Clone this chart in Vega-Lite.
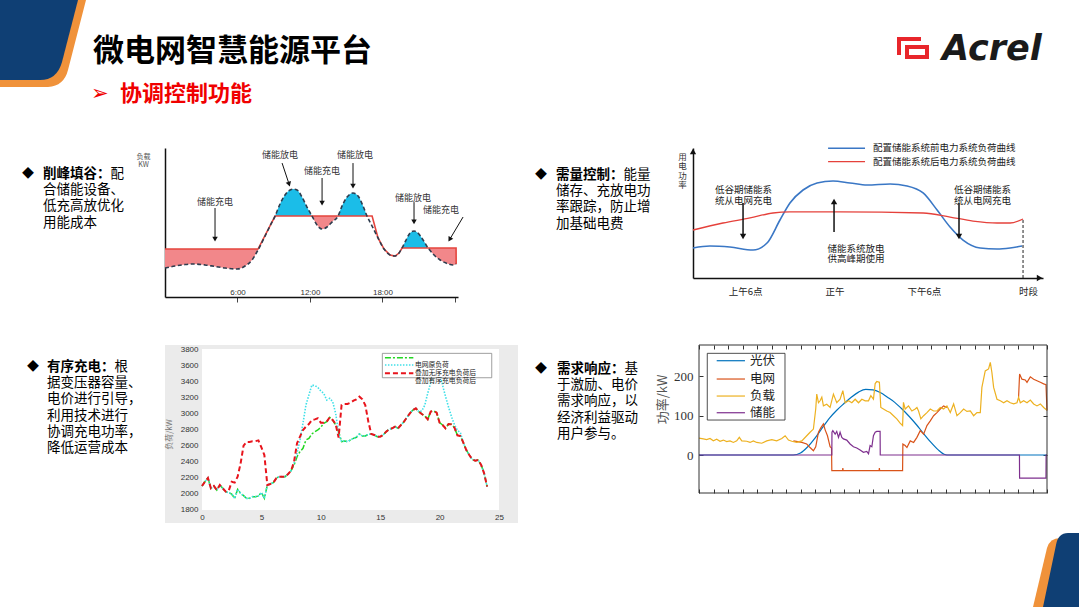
{
  "$schema": "https://vega.github.io/schema/vega-lite/v6.json",
  "background": "white",
  "padding": 0,
  "autosize": {"type": "pad"},
  "config": {
    "view": {"stroke": null},
    "font": "Noto Sans CJK SC",
    "axis": {"grid": false, "labelFont": "Noto Sans CJK SC", "titleFont": "Noto Sans CJK SC"}
  },
  "datasets": {
    "c1dash": [{"x":0,"y":21.2},{"x":0.83,"y":22.6},{"x":1.66,"y":23.7},{"x":2.32,"y":24.1},{"x":3.31,"y":23.4},{"x":4.14,"y":22.3},{"x":4.97,"y":21.2},{"x":5.96,"y":20.4},{"x":6.62,"y":22.6},{"x":7.2,"y":27.0},{"x":7.7,"y":34.3},{"x":8.28,"y":44.5},{"x":8.69,"y":51.8},{"x":9.11,"y":59.1},{"x":9.52,"y":67.9},{"x":9.93,"y":74.5},{"x":10.35,"y":78.1},{"x":10.6,"y":78.8},{"x":10.93,"y":78.1},{"x":11.34,"y":73.0},{"x":11.75,"y":65.7},{"x":12.17,"y":59.1},{"x":12.58,"y":52.6},{"x":13.0,"y":49.6},{"x":13.41,"y":51.1},{"x":13.82,"y":54.7},{"x":14.32,"y":59.1},{"x":14.65,"y":66.4},{"x":15.07,"y":73.0},{"x":15.56,"y":75.9},{"x":15.98,"y":73.7},{"x":16.39,"y":66.4},{"x":16.72,"y":59.1},{"x":17.14,"y":51.8},{"x":17.63,"y":43.1},{"x":18.13,"y":35.0},{"x":18.63,"y":30.7},{"x":19.04,"y":29.9},{"x":19.37,"y":32.1},{"x":19.62,"y":35.8},{"x":19.95,"y":41.6},{"x":20.28,"y":46.7},{"x":20.61,"y":48.2},{"x":20.94,"y":46.7},{"x":21.36,"y":41.6},{"x":21.77,"y":35.8},{"x":22.27,"y":30.7},{"x":22.77,"y":27.0},{"x":23.26,"y":24.8},{"x":23.84,"y":23.4},{"x":24.09,"y":24.1}],
    "c1red": [{"x":0,"y":35},{"x":7.7,"y":35},{"x":9.11,"y":59.1},{"x":17.14,"y":59.1},{"x":17.63,"y":43.1},{"x":18.13,"y":35.0},{"x":18.63,"y":30.7},{"x":19.04,"y":29.9},{"x":19.37,"y":32.1},{"x":19.62,"y":35.8},{"x":24.09,"y":35.8},{"x":24.1,"y":24.1}],
    "c1fill": [
      {"seg":"A","kind":"充电","x":0,"y":21.2,"y2":35},{"seg":"A","kind":"充电","x":0.83,"y":22.6,"y2":35},{"seg":"A","kind":"充电","x":1.66,"y":23.7,"y2":35},{"seg":"A","kind":"充电","x":2.32,"y":24.1,"y2":35},{"seg":"A","kind":"充电","x":3.31,"y":23.4,"y2":35},{"seg":"A","kind":"充电","x":4.14,"y":22.3,"y2":35},{"seg":"A","kind":"充电","x":4.97,"y":21.2,"y2":35},{"seg":"A","kind":"充电","x":5.96,"y":20.4,"y2":35},{"seg":"A","kind":"充电","x":6.62,"y":22.6,"y2":35},{"seg":"A","kind":"充电","x":7.2,"y":27.0,"y2":35},{"seg":"A","kind":"充电","x":7.7,"y":34.3,"y2":35},
      {"seg":"B","kind":"放电","x":9.11,"y":59.1,"y2":59.1},{"seg":"B","kind":"放电","x":9.52,"y":67.9,"y2":59.1},{"seg":"B","kind":"放电","x":9.93,"y":74.5,"y2":59.1},{"seg":"B","kind":"放电","x":10.35,"y":78.1,"y2":59.1},{"seg":"B","kind":"放电","x":10.6,"y":78.8,"y2":59.1},{"seg":"B","kind":"放电","x":10.93,"y":78.1,"y2":59.1},{"seg":"B","kind":"放电","x":11.34,"y":73.0,"y2":59.1},{"seg":"B","kind":"放电","x":11.75,"y":65.7,"y2":59.1},{"seg":"B","kind":"放电","x":12.17,"y":59.1,"y2":59.1},
      {"seg":"C","kind":"充电","x":12.17,"y":59.1,"y2":59.1},{"seg":"C","kind":"充电","x":12.58,"y":52.6,"y2":59.1},{"seg":"C","kind":"充电","x":13.0,"y":49.6,"y2":59.1},{"seg":"C","kind":"充电","x":13.41,"y":51.1,"y2":59.1},{"seg":"C","kind":"充电","x":13.82,"y":54.7,"y2":59.1},{"seg":"C","kind":"充电","x":14.32,"y":59.1,"y2":59.1},
      {"seg":"D","kind":"放电","x":14.32,"y":59.1,"y2":59.1},{"seg":"D","kind":"放电","x":14.65,"y":66.4,"y2":59.1},{"seg":"D","kind":"放电","x":15.07,"y":73.0,"y2":59.1},{"seg":"D","kind":"放电","x":15.56,"y":75.9,"y2":59.1},{"seg":"D","kind":"放电","x":15.98,"y":73.7,"y2":59.1},{"seg":"D","kind":"放电","x":16.39,"y":66.4,"y2":59.1},{"seg":"D","kind":"放电","x":16.72,"y":59.1,"y2":59.1},
      {"seg":"E","kind":"放电","x":19.62,"y":35.8,"y2":35.8},{"seg":"E","kind":"放电","x":19.95,"y":41.6,"y2":35.8},{"seg":"E","kind":"放电","x":20.28,"y":46.7,"y2":35.8},{"seg":"E","kind":"放电","x":20.61,"y":48.2,"y2":35.8},{"seg":"E","kind":"放电","x":20.94,"y":46.7,"y2":35.8},{"seg":"E","kind":"放电","x":21.36,"y":41.6,"y2":35.8},{"seg":"E","kind":"放电","x":21.77,"y":35.8,"y2":35.8},
      {"seg":"F","kind":"充电","x":21.77,"y":35.8,"y2":35.8},{"seg":"F","kind":"充电","x":22.27,"y":30.7,"y2":35.8},{"seg":"F","kind":"充电","x":22.77,"y":27.0,"y2":35.8},{"seg":"F","kind":"充电","x":23.26,"y":24.8,"y2":35.8},{"seg":"F","kind":"充电","x":23.84,"y":23.4,"y2":35.8},{"seg":"F","kind":"充电","x":24.09,"y":24.1,"y2":35.8}
    ],
    "c1arrows": [{"x":4.14,"y":65,"x2":4.14,"y2":42.3},{"x":9.69,"y":97.8,"x2":10.27,"y2":82.4},{"x":13.0,"y":86.9,"x2":13.0,"y2":68.6},{"x":15.56,"y":97.8,"x2":15.56,"y2":81},{"x":20.61,"y":69.3,"x2":20.61,"y2":54.8},{"x":24.67,"y":58.4,"x2":23.56,"y2":42.0}],
    "c1heads": [{"x":4.14,"y":42.3,"a":0},{"x":10.27,"y":82.4,"a":-18},{"x":13.0,"y":68.6,"a":0},{"x":15.56,"y":81,"a":0},{"x":20.61,"y":54.8,"a":0},{"x":23.56,"y":42.0,"a":31}],
    "c1labels": [{"x":4.14,"y":69.3,"t":"储能充电"},{"x":9.52,"y":103.6,"t":"储能放电"},{"x":13.0,"y":92.0,"t":"储能充电"},{"x":15.73,"y":103.6,"t":"储能放电"},{"x":20.53,"y":72.3,"t":"储能放电"},{"x":22.85,"y":63.5,"t":"储能充电"}],
    "c2lines": [
      {"s":"前","x":2.5,"y":23.1},{"s":"前","x":3.64,"y":24.6},{"s":"前","x":4.98,"y":23.8},{"s":"前","x":6.53,"y":21.5},{"s":"前","x":7.47,"y":26.9},{"s":"前","x":8.34,"y":44.6},{"s":"前","x":9.01,"y":57.7},{"s":"前","x":9.89,"y":67.7},{"s":"前","x":10.83,"y":73.1},{"s":"前","x":11.9,"y":74.6},{"s":"前","x":13.04,"y":73.1},{"s":"前","x":14.19,"y":71.5},{"s":"前","x":15.73,"y":72.3},{"s":"前","x":16.87,"y":70.8},{"s":"前","x":17.95,"y":65.4},{"s":"前","x":18.89,"y":52.3},{"s":"前","x":19.76,"y":39.2},{"s":"前","x":20.63,"y":29.2},{"s":"前","x":21.78,"y":23.1},{"s":"前","x":22.92,"y":22.3},{"s":"前","x":23.79,"y":23.1},{"s":"前","x":24.6,"y":24.6},
      {"s":"后","x":2.5,"y":36.9},{"s":"后","x":4.51,"y":42.3},{"s":"后","x":6.33,"y":46.2},{"s":"后","x":7.87,"y":50.0},{"s":"后","x":9.01,"y":50.8},{"s":"后","x":12.37,"y":50.8},{"s":"后","x":17.95,"y":50.0},{"s":"后","x":19.76,"y":46.9},{"s":"后","x":21.3,"y":43.8},{"s":"后","x":22.92,"y":42.3},{"s":"后","x":23.79,"y":42.3},{"s":"后","x":24.66,"y":45.4}
    ],
    "c2arrows": [{"x":5.86,"y":57.7,"y2":31.9},{"x":11.97,"y":35.4,"y2":58.8},{"x":20.36,"y":57.7,"y2":31.9}],
    "c2heads": [{"x":5.86,"y":31.9,"a":0},{"x":11.97,"y":58.8,"a":180},{"x":20.36,"y":31.9,"a":0},{"x":2.5,"y":97.3,"a":180},{"x":25.77,"y":0,"a":-90}],
    "c2leg": [{"s":"前","x":11.57,"x2":14.05,"y":99.8},{"s":"后","x":11.57,"x2":14.05,"y":89.5}],
    "c2legtext": [{"x":14.59,"y":99.8,"t":"配置储能系统前电力系统负荷曲线"},{"x":14.59,"y":89.5,"t":"配置储能系统后电力系统负荷曲线"}],
    "c2text": [{"x":5.89,"y":67.4,"t":"低谷期储能系\n统从电网充电"},{"x":21.94,"y":67.4,"t":"低谷期储能系\n统从电网充电"},{"x":13.45,"y":22.6,"t":"储能系统放电\n供高峰期使用"}],
    "c3": [
      {"x":0,"g":2098,"c":2098,"r":2098},{"x":0.25,"g":2152,"c":2152,"r":2152},{"x":0.5,"g":2198,"c":2198,"r":2198},{"x":0.75,"g":2069,"c":2069,"r":2069},{"x":1,"g":2098,"c":2098,"r":2098},{"x":1.25,"g":2048,"c":2048,"r":2048},{"x":1.5,"g":2110,"c":2110,"r":2110},{"x":1.75,"g":2069,"c":2069,"r":2069},{"x":2,"g":2028,"c":2028,"r":2028},{"x":2.25,"g":2015,"c":2015,"r":2040},{"x":2.5,"g":1999,"c":1999,"r":2150},{"x":2.75,"g":1945,"c":1945,"r":2140},{"x":3,"g":2057,"c":2057,"r":2214},{"x":3.25,"g":2007,"c":2007,"r":2380},{"x":3.5,"g":1978,"c":1978,"r":2600},{"x":3.75,"g":1945,"c":1945,"r":2645},{"x":4,"g":1945,"c":1945,"r":2645},{"x":4.25,"g":1966,"c":1966,"r":2655},{"x":4.5,"g":1966,"c":1966,"r":2655},{"x":4.75,"g":1974,"c":1974,"r":2665},{"x":5,"g":2019,"c":2019,"r":2578},{"x":5.25,"g":1945,"c":1945,"r":2483},{"x":5.5,"g":2110,"c":2110,"r":2110},{"x":5.75,"g":2123,"c":2123,"r":2123},{"x":6,"g":2140,"c":2140,"r":2140},{"x":6.25,"g":2193,"c":2193,"r":2193},{"x":6.5,"g":2214,"c":2214,"r":2214},{"x":6.75,"g":2214,"c":2214,"r":2214},{"x":7,"g":2214,"c":2214,"r":2214},{"x":7.25,"g":2247,"c":2247,"r":2247},{"x":7.5,"g":2289,"c":2289,"r":2289},{"x":7.75,"g":2359,"c":2380,"r":2400},{"x":8,"g":2462,"c":2504,"r":2628},{"x":8.25,"g":2525,"c":2670,"r":2711},{"x":8.5,"g":2566,"c":2877,"r":2794},{"x":8.75,"g":2670,"c":3104,"r":2835},{"x":9,"g":2690,"c":3229,"r":2868},{"x":9.25,"g":2744,"c":3353,"r":2918},{"x":9.5,"g":2773,"c":3345,"r":2926},{"x":9.75,"g":2794,"c":3324,"r":2939},{"x":10,"g":2827,"c":3278,"r":2885},{"x":10.25,"g":2877,"c":3249,"r":2885},{"x":10.5,"g":2897,"c":3166,"r":2897},{"x":10.75,"g":2951,"c":3187,"r":2951},{"x":11,"g":2918,"c":3146,"r":2918},{"x":11.25,"g":2856,"c":3001,"r":2868},{"x":11.5,"g":2773,"c":2752,"r":2700},{"x":11.75,"g":2649,"c":2649,"r":3104},{"x":12,"g":2657,"c":2657,"r":3117},{"x":12.25,"g":2649,"c":2649,"r":3117},{"x":12.5,"g":2670,"c":2670,"r":3133},{"x":12.75,"g":2690,"c":2690,"r":3158},{"x":13,"g":2703,"c":2703,"r":3175},{"x":13.25,"g":2744,"c":2744,"r":3208},{"x":13.5,"g":2719,"c":2719,"r":3175},{"x":13.75,"g":2719,"c":2719,"r":3100},{"x":14,"g":2740,"c":2740,"r":2900},{"x":14.25,"g":2744,"c":2744,"r":2744},{"x":14.5,"g":2732,"c":2732,"r":2732},{"x":14.75,"g":2711,"c":2711,"r":2711},{"x":15,"g":2711,"c":2711,"r":2711},{"x":15.25,"g":2732,"c":2732,"r":2732},{"x":15.5,"g":2773,"c":2773,"r":2773},{"x":15.75,"g":2802,"c":2802,"r":2802},{"x":16,"g":2815,"c":2815,"r":2815},{"x":16.25,"g":2835,"c":2835,"r":2835},{"x":16.5,"g":2815,"c":2815,"r":2815},{"x":16.75,"g":2856,"c":2856,"r":2856},{"x":17,"g":2897,"c":2897,"r":2897},{"x":17.25,"g":2951,"c":2951,"r":2951},{"x":17.5,"g":3001,"c":3001,"r":3001},{"x":17.75,"g":3042,"c":3042,"r":3042},{"x":18,"g":3063,"c":3063,"r":3063},{"x":18.25,"g":3022,"c":3022,"r":3022},{"x":18.5,"g":2993,"c":3030,"r":2993},{"x":18.75,"g":2968,"c":3100,"r":2968},{"x":19,"g":2926,"c":3250,"r":2926},{"x":19.25,"g":3022,"c":3380,"r":3022},{"x":19.5,"g":3030,"c":3560,"r":3030},{"x":19.75,"g":3009,"c":3700,"r":3009},{"x":20,"g":2885,"c":3550,"r":2885},{"x":20.25,"g":2856,"c":3350,"r":2856},{"x":20.5,"g":2815,"c":3210,"r":2815},{"x":20.75,"g":2868,"c":3080,"r":2868},{"x":21,"g":2864,"c":2960,"r":2864},{"x":21.25,"g":2823,"c":2860,"r":2823},{"x":21.5,"g":2728,"c":2790,"r":2728},{"x":21.75,"g":2719,"c":2760,"r":2719},{"x":22,"g":2636,"c":2636,"r":2636},{"x":22.25,"g":2545,"c":2545,"r":2545},{"x":22.5,"g":2483,"c":2483,"r":2483},{"x":22.75,"g":2429,"c":2429,"r":2429},{"x":23,"g":2413,"c":2413,"r":2413},{"x":23.25,"g":2421,"c":2421,"r":2421},{"x":23.5,"g":2359,"c":2359,"r":2359},{"x":23.75,"g":2255,"c":2255,"r":2255},{"x":24,"g":2090,"c":2090,"r":2090}
    ],
    "c3box": [{"x":15.18,"x2":24.39,"y":3746,"y2":3443}],
    "c3leg": [{"s":"g","x":15.4,"x2":17.79,"y":3692},{"s":"c","x":15.4,"x2":17.79,"y":3601},{"s":"r","x":15.4,"x2":17.79,"y":3498}],
    "c3legtext": [{"x":17.92,"y":3597,"t":"电网原负荷\n叠加无序充电负荷后\n叠加有序充电负荷后"}],
    "c4": [
      {"s":"光伏","x":0,"y":0},{"s":"光伏","x":6.5,"y":0},{"s":"光伏","x":7,"y":5},{"s":"光伏","x":7.5,"y":21},{"s":"光伏","x":8,"y":43},{"s":"光伏","x":8.5,"y":69},{"s":"光伏","x":9,"y":94},{"s":"光伏","x":9.5,"y":114},{"s":"光伏","x":10,"y":131},{"s":"光伏","x":10.5,"y":147},{"s":"光伏","x":11,"y":160},{"s":"光伏","x":11.5,"y":167},{"s":"光伏","x":12,"y":166},{"s":"光伏","x":12.5,"y":159},{"s":"光伏","x":13,"y":147},{"s":"光伏","x":13.5,"y":134},{"s":"光伏","x":14,"y":117},{"s":"光伏","x":14.5,"y":98},{"s":"光伏","x":15,"y":77},{"s":"光伏","x":15.5,"y":54},{"s":"光伏","x":16,"y":32},{"s":"光伏","x":16.5,"y":13},{"s":"光伏","x":16.9,"y":2},{"s":"光伏","x":17.1,"y":0},{"s":"光伏","x":24,"y":0},
      {"s":"电网","seg":"a","x":6.51,"y":36},{"s":"电网","seg":"a","x":7.09,"y":32},{"s":"电网","seg":"a","x":7.43,"y":28},{"s":"电网","seg":"a","x":7.66,"y":19},{"s":"电网","seg":"a","x":7.89,"y":11},{"s":"电网","seg":"a","x":8.05,"y":21},{"s":"电网","seg":"a","x":8.24,"y":58},{"s":"电网","seg":"a","x":8.4,"y":69},{"s":"电网","seg":"a","x":8.58,"y":79},{"s":"电网","seg":"a","x":8.7,"y":64},{"s":"电网","seg":"a","x":8.86,"y":49},{"s":"电网","seg":"a","x":9.04,"y":21},{"s":"电网","seg":"a","x":9.14,"y":18},{"s":"电网","seg":"a","x":9.16,"y":-40},{"s":"电网","seg":"a","x":9.9,"y":-40},{"s":"电网","seg":"a","x":9.92,"y":-33},{"s":"电网","seg":"a","x":9.94,"y":-40},{"s":"电网","seg":"a","x":12.42,"y":-40},{"s":"电网","seg":"a","x":12.44,"y":-33},{"s":"电网","seg":"a","x":12.46,"y":-40},{"s":"电网","seg":"a","x":14.04,"y":-40},{"s":"电网","seg":"a","x":14.06,"y":28},{"s":"电网","seg":"a","x":14.22,"y":24},{"s":"电网","seg":"a","x":14.34,"y":19},{"s":"电网","seg":"a","x":14.57,"y":36},{"s":"电网","seg":"a","x":14.8,"y":32},{"s":"电网","seg":"a","x":15.03,"y":45},{"s":"电网","seg":"a","x":15.26,"y":62},{"s":"电网","seg":"a","x":15.49,"y":53},{"s":"电网","seg":"a","x":15.72,"y":75},{"s":"电网","seg":"a","x":15.95,"y":87},{"s":"电网","seg":"a","x":16.18,"y":100},{"s":"电网","seg":"a","x":16.41,"y":108},{"s":"电网","seg":"a","x":16.64,"y":117},{"s":"电网","seg":"a","x":16.87,"y":125},{"s":"电网","seg":"a","x":17.1,"y":121},
      {"s":"电网","seg":"b","x":22.04,"y":147},{"s":"电网","seg":"b","x":22.11,"y":206},{"s":"电网","seg":"b","x":22.27,"y":193},{"s":"电网","seg":"b","x":22.5,"y":191},{"s":"电网","seg":"b","x":22.62,"y":185},{"s":"电网","seg":"b","x":22.85,"y":199},{"s":"电网","seg":"b","x":23.08,"y":193},{"s":"电网","seg":"b","x":23.31,"y":189},{"s":"电网","seg":"b","x":23.54,"y":185},{"s":"电网","seg":"b","x":23.77,"y":181},{"s":"电网","seg":"b","x":23.93,"y":179},{"s":"电网","seg":"b","x":24,"y":113},
      {"s":"负载","x":0,"y":43},{"s":"负载","x":0.3,"y":41},{"s":"负载","x":0.53,"y":39},{"s":"负载","x":0.76,"y":42},{"s":"负载","x":0.99,"y":36},{"s":"负载","x":1.22,"y":40},{"s":"负载","x":1.45,"y":35},{"s":"负载","x":1.68,"y":38},{"s":"负载","x":1.91,"y":34},{"s":"负载","x":2.14,"y":36},{"s":"负载","x":2.37,"y":32},{"s":"负载","x":2.6,"y":36},{"s":"负载","x":2.78,"y":45},{"s":"负载","x":2.95,"y":36},{"s":"负载","x":3.29,"y":35},{"s":"负载","x":3.52,"y":32},{"s":"负载","x":3.75,"y":36},{"s":"负载","x":3.98,"y":32},{"s":"负载","x":4.33,"y":30},{"s":"负载","x":4.67,"y":36},{"s":"负载","x":5.02,"y":39},{"s":"负载","x":5.36,"y":36},{"s":"负载","x":5.71,"y":42},{"s":"负载","x":5.94,"y":49},{"s":"负载","x":6.17,"y":38},{"s":"负载","x":6.4,"y":35},{"s":"负载","x":6.74,"y":32},{"s":"负载","x":7.09,"y":36},{"s":"负载","x":7.43,"y":49},{"s":"负载","x":7.66,"y":58},{"s":"负载","x":7.89,"y":66},{"s":"负载","x":8.05,"y":117},{"s":"负载","x":8.12,"y":155},{"s":"负载","x":8.24,"y":133},{"s":"负载","x":8.35,"y":138},{"s":"负载","x":8.47,"y":147},{"s":"负载","x":8.58,"y":125},{"s":"负载","x":8.81,"y":129},{"s":"负载","x":9.04,"y":121},{"s":"负载","x":9.27,"y":155},{"s":"负载","x":9.5,"y":133},{"s":"负载","x":9.73,"y":142},{"s":"负载","x":9.92,"y":164},{"s":"负载","x":10.08,"y":133},{"s":"负载","x":10.31,"y":138},{"s":"负载","x":10.54,"y":133},{"s":"负载","x":10.77,"y":142},{"s":"负载","x":11.0,"y":133},{"s":"负载","x":11.23,"y":142},{"s":"负载","x":11.46,"y":138},{"s":"负载","x":11.69,"y":138},{"s":"负载","x":11.85,"y":151},{"s":"负载","x":12.03,"y":142},{"s":"负载","x":12.15,"y":182},{"s":"负载","x":12.26,"y":187},{"s":"负载","x":12.44,"y":185},{"s":"负载","x":12.54,"y":121},{"s":"负载","x":12.72,"y":117},{"s":"负载","x":12.95,"y":112},{"s":"负载","x":13.18,"y":108},{"s":"负载","x":13.41,"y":100},{"s":"负载","x":13.64,"y":92},{"s":"负载","x":13.87,"y":81},{"s":"负载","x":14.04,"y":75},{"s":"负载","x":14.1,"y":134},{"s":"负载","x":14.22,"y":117},{"s":"负载","x":14.45,"y":125},{"s":"负载","x":14.68,"y":112},{"s":"负载","x":14.91,"y":117},{"s":"负载","x":15.03,"y":121},{"s":"负载","x":15.14,"y":112},{"s":"负载","x":15.3,"y":92},{"s":"负载","x":15.49,"y":100},{"s":"负载","x":15.72,"y":108},{"s":"负载","x":15.95,"y":117},{"s":"负载","x":16.18,"y":112},{"s":"负载","x":16.41,"y":112},{"s":"负载","x":16.64,"y":121},{"s":"负载","x":16.87,"y":117},{"s":"负载","x":17.1,"y":125},{"s":"负载","x":17.33,"y":108},{"s":"负载","x":17.56,"y":130},{"s":"负载","x":17.79,"y":100},{"s":"负载","x":18.02,"y":108},{"s":"负载","x":18.25,"y":117},{"s":"负载","x":18.48,"y":111},{"s":"负载","x":18.71,"y":112},{"s":"负载","x":18.94,"y":100},{"s":"负载","x":19.17,"y":108},{"s":"负载","x":19.4,"y":108},{"s":"负载","x":19.51,"y":172},{"s":"负载","x":19.74,"y":214},{"s":"负载","x":19.97,"y":219},{"s":"负载","x":20.09,"y":236},{"s":"负载","x":20.2,"y":210},{"s":"负载","x":20.32,"y":172},{"s":"负载","x":20.55,"y":142},{"s":"负载","x":20.78,"y":138},{"s":"负载","x":21.01,"y":133},{"s":"负载","x":21.24,"y":138},{"s":"负载","x":21.47,"y":133},{"s":"负载","x":21.7,"y":130},{"s":"负载","x":21.93,"y":133},{"s":"负载","x":22.04,"y":147},{"s":"负载","x":22.16,"y":133},{"s":"负载","x":22.39,"y":138},{"s":"负载","x":22.62,"y":133},{"s":"负载","x":22.85,"y":140},{"s":"负载","x":23.08,"y":130},{"s":"负载","x":23.31,"y":125},{"s":"负载","x":23.54,"y":130},{"s":"负载","x":23.77,"y":121},{"s":"负载","x":24,"y":114},
      {"s":"储能","x":0,"y":0},{"s":"储能","x":9.16,"y":0},{"s":"储能","x":9.17,"y":58},{"s":"储能","x":9.23,"y":62},{"s":"储能","x":9.39,"y":53},{"s":"储能","x":9.5,"y":60},{"s":"储能","x":9.62,"y":45},{"s":"储能","x":9.73,"y":58},{"s":"储能","x":9.85,"y":45},{"s":"储能","x":9.96,"y":41},{"s":"储能","x":10.19,"y":38},{"s":"储能","x":10.42,"y":28},{"s":"储能","x":10.65,"y":21},{"s":"储能","x":10.88,"y":18},{"s":"储能","x":11.11,"y":13},{"s":"储能","x":11.34,"y":7},{"s":"储能","x":11.57,"y":9},{"s":"储能","x":11.69,"y":3},{"s":"储能","x":11.8,"y":24},{"s":"储能","x":11.92,"y":21},{"s":"储能","x":12.03,"y":49},{"s":"储能","x":12.15,"y":58},{"s":"储能","x":12.26,"y":60},{"s":"储能","x":12.49,"y":60},{"s":"储能","x":12.5,"y":0},{"s":"储能","x":22.1,"y":0},{"s":"储能","x":22.11,"y":-59},{"s":"储能","x":23.93,"y":-59},{"s":"储能","x":23.94,"y":0},{"s":"储能","x":24,"y":0}
    ],
    "c4frame": [{"x":0,"x2":24,"y":-96.7,"y2":280}],
    "c4box": [{"x":0.57,"x2":5.93,"y":258.8,"y2":89}],
    "c4leg": [{"s":"光伏","x":1.22,"x2":3.17,"y":240},{"s":"电网","x":1.22,"x2":3.17,"y":193.4},{"s":"负载","x":1.22,"x2":3.17,"y":150.1},{"s":"储能","x":1.22,"x2":3.17,"y":107.6}],
    "c4legtext": [{"x":3.52,"y":240,"t":"光伏"},{"x":3.52,"y":193.4,"t":"电网"},{"x":3.52,"y":150.1,"t":"负载"},{"x":3.52,"y":107.6,"t":"储能"}]
  },
  "columns": 4,
  "bounds": "flush",
  "align": "each",
  "spacing": {"row": 48, "column": 0},
  "concat": [
    {
      "width": 143, "height": 72,
      "data": {"values": [{"line": 0, "t": "微电网智慧能源平台", "logo": "Acrel"}, {"line": 1, "t": "协调控制功能", "arrow": "➢"}]},
      "encoding": {
        "x": {"datum": 0, "type": "quantitative", "scale": {"domain": [0, 1]}, "axis": null},
        "y": {"field": "line", "type": "quantitative", "scale": {"domain": [-0.5, 1.174], "reverse": true, "nice": false, "zero": false}, "axis": null}
      },
      "layer": [
        {"transform": [{"filter": "datum.line == 0"}], "mark": {"type": "point", "shape": "M-22,-49.5 L64,-49.5 L46,20.5 Q42,36.5 26,37.5 L-22,37.5 Z", "size": 4, "filled": true, "color": "#f0923a", "opacity": 1, "strokeWidth": 0}},
        {"transform": [{"filter": "datum.line == 0"}], "mark": {"type": "point", "shape": "M-22,-49.5 L56,-49.5 L40,12.5 Q35,30.5 18,30.5 L-22,30.5 Z", "size": 4, "filled": true, "color": "#0f3f74", "opacity": 1, "strokeWidth": 0}},
        {"transform": [{"filter": "datum.line == 0"}], "mark": {"type": "point", "shape": "M1038,488.5 L1057,488.5 L1057,557.5 L1011,557.5 L1025,498.5 Q1028,488.5 1038,488.5 Z", "size": 4, "filled": true, "color": "#f0923a", "opacity": 1, "strokeWidth": 0}},
        {"transform": [{"filter": "datum.line == 0"}], "mark": {"type": "point", "shape": "M1046,483.5 L1057,483.5 L1057,557.5 L1021,557.5 L1034,495.5 Q1036,483.5 1046,483.5 Z", "size": 4, "filled": true, "color": "#0f3f74", "opacity": 1, "strokeWidth": 0}},
        {"transform": [{"filter": "datum.line == 0"}], "mark": {"type": "point", "shape": "M875,-12.5 H899 V-8.5 H879 V5.5 H875 Z M883,-4.5 H907 V9.5 H883 Z M887,-0.5 V5.5 H903 V-0.5 Z", "size": 4, "filled": true, "color": "#e8262b", "opacity": 1, "strokeWidth": 0}},
        {"transform": [{"filter": "datum.line == 0"}], "mark": {"type": "text", "align": "left", "baseline": "middle", "dx": 71, "dy": 2, "fontSize": 31, "fontWeight": "bold", "color": "#000000"}, "encoding": {"text": {"field": "t"}}},
        {"transform": [{"filter": "datum.line == 0"}], "mark": {"type": "text", "align": "left", "baseline": "middle", "dx": 920, "dy": -1, "fontSize": 35, "fontWeight": "bold", "fontStyle": "italic", "font": "DejaVu Sans", "color": "#1a1a1a"}, "encoding": {"text": {"field": "logo"}}},
        {"transform": [{"filter": "datum.line == 1"}], "mark": {"type": "text", "align": "left", "baseline": "middle", "dx": 69, "dy": 1, "fontSize": 21, "font": "DejaVu Sans", "color": "#f00000"}, "encoding": {"text": {"field": "arrow"}}},
        {"transform": [{"filter": "datum.line == 1"}], "mark": {"type": "text", "align": "left", "baseline": "middle", "dx": 98, "dy": 1, "fontSize": 22, "fontWeight": "bold", "color": "#f00000"}, "encoding": {"text": {"field": "t"}}}
      ]
    },
    {"width": 293, "height": 10, "data": {"values": []}, "mark": "point"},
    {"width": 175, "height": 10, "data": {"values": []}, "mark": "point"},
    {"width": 350, "height": 10, "data": {"values": []}, "mark": "point"},
    {
      "width": 143, "height": 100,
      "data": {"values": [{"line": 0, "b": "削峰填谷：", "r": "配"}, {"line": 1, "t": "合储能设备、"}, {"line": 2, "t": "低充高放优化"}, {"line": 3, "t": "用能成本"}]},
      "encoding": {
        "x": {"datum": 0, "type": "quantitative", "scale": {"domain": [0, 1]}, "axis": null},
        "y": {"field": "line", "type": "quantitative", "scale": {"domain": [-1.605, 4.568], "reverse": true, "nice": false, "zero": false}, "axis": null}
      },
      "layer": [
        {"transform": [{"filter": "datum.line == 0"}], "mark": {"type": "text", "text": "◆", "align": "left", "baseline": "middle", "dx": 0, "fontSize": 12, "color": "#000000"}},
        {"transform": [{"filter": "datum.line > 0"}], "mark": {"type": "text", "align": "left", "baseline": "middle", "dx": 21, "fontSize": 13.5, "color": "#000000"}, "encoding": {"text": {"field": "t"}}},
        {"transform": [{"filter": "datum.line == 0"}], "mark": {"type": "text", "align": "left", "baseline": "middle", "dx": 21, "fontSize": 13.5, "fontWeight": "bold", "color": "#000000"}, "encoding": {"text": {"field": "b"}}},
        {"transform": [{"filter": "datum.line == 0"}], "mark": {"type": "text", "align": "left", "baseline": "middle", "dx": 88.5, "fontSize": 13.5, "color": "#000000"}, "encoding": {"text": {"field": "r"}}}
      ]
    },
    {
      "width": 293, "height": 149,
      "encoding": {
        "x": {"field": "x", "type": "quantitative", "scale": {"domain": [0, 24.25], "nice": false, "zero": false},
              "axis": {"values": [6, 12, 18, 24], "labelExpr": "datum.value == 24 ? '' : datum.value + ':00'", "title": null, "domainColor": "#111111", "domainWidth": 1.5, "tickColor": "#444444", "tickSize": 5, "labelFontSize": 8, "labelColor": "#333333", "labelFont": "Liberation Sans", "labelBaseline": "bottom", "labelPadding": -6}},
        "y": {"field": "y", "type": "quantitative", "scale": {"domain": [0, 108.8], "nice": false, "zero": false},
              "axis": {"ticks": false, "labels": false, "domainColor": "#111111", "domainWidth": 1.5, "title": ["负载", "KW"], "titleAngle": 0, "titleAlign": "center", "titleBaseline": "top", "titleX": -22, "titleY": 4, "titleFontSize": 7, "titleColor": "#555555", "titleFontWeight": "normal", "titleLineHeight": 8}}
      },
      "layer": [
        {"data": {"name": "c1fill"}, "transform": [{"filter": "datum.kind == '充电'"}], "mark": {"type": "area", "color": "#f2878a", "opacity": 1, "interpolate": "monotone"}, "encoding": {"y2": {"field": "y2"}, "detail": {"field": "seg"}}},
        {"data": {"name": "c1fill"}, "transform": [{"filter": "datum.kind == '放电'"}], "mark": {"type": "area", "color": "#1bbde8", "opacity": 1, "interpolate": "monotone"}, "encoding": {"y2": {"field": "y2"}, "detail": {"field": "seg"}}},
        {"data": {"name": "c1red"}, "mark": {"type": "line", "color": "#e5453e", "strokeWidth": 1.6}},
        {"data": {"name": "c1dash"}, "mark": {"type": "line", "color": "#2e3d4f", "strokeWidth": 1.6, "strokeDash": [4, 2.5], "interpolate": "monotone"}},
        {"data": {"name": "c1arrows"}, "mark": {"type": "rule", "color": "#111111", "strokeWidth": 1}, "encoding": {"x2": {"field": "x2"}, "y2": {"field": "y2"}}},
        {"data": {"name": "c1heads"}, "mark": {"type": "point", "shape": "triangle-down", "filled": true, "color": "#111111", "size": 30, "opacity": 1}, "encoding": {"angle": {"field": "a", "type": "quantitative", "scale": null}}},
        {"data": {"name": "c1labels"}, "mark": {"type": "text", "fontSize": 9, "color": "#333333"}, "encoding": {"text": {"field": "t"}}}
      ]
    },
    {
      "width": 175, "height": 100,
      "data": {"values": [{"line": 0, "b": "需量控制：", "r": "能量"}, {"line": 1, "t": "储存、充放电功"}, {"line": 2, "t": "率跟踪，防止增"}, {"line": 3, "t": "加基础电费"}]},
      "encoding": {
        "x": {"datum": 0, "type": "quantitative", "scale": {"domain": [0, 1]}, "axis": null},
        "y": {"field": "line", "type": "quantitative", "scale": {"domain": [-1.667, 4.506], "reverse": true, "nice": false, "zero": false}, "axis": null}
      },
      "layer": [
        {"transform": [{"filter": "datum.line == 0"}], "mark": {"type": "text", "text": "◆", "align": "left", "baseline": "middle", "dx": 17, "fontSize": 12, "color": "#000000"}},
        {"transform": [{"filter": "datum.line > 0"}], "mark": {"type": "text", "align": "left", "baseline": "middle", "dx": 38, "fontSize": 13.5, "color": "#000000"}, "encoding": {"text": {"field": "t"}}},
        {"transform": [{"filter": "datum.line == 0"}], "mark": {"type": "text", "align": "left", "baseline": "middle", "dx": 38, "fontSize": 13.5, "fontWeight": "bold", "color": "#000000"}, "encoding": {"text": {"field": "b"}}},
        {"transform": [{"filter": "datum.line == 0"}], "mark": {"type": "text", "align": "left", "baseline": "middle", "dx": 105.5, "fontSize": 13.5, "color": "#000000"}, "encoding": {"text": {"field": "r"}}}
      ]
    },
    {
      "width": 350, "height": 130,
      "encoding": {
        "x": {"field": "x", "type": "quantitative", "scale": {"domain": [2.5, 26], "nice": false, "zero": false},
              "axis": {"values": [6, 12, 18, 25], "labelExpr": "datum.value == 6 ? '上午6点' : datum.value == 12 ? '正午' : datum.value == 18 ? '下午6点' : '时段'", "ticks": false, "title": null, "domainColor": "#111111", "domainWidth": 1.5, "labelFontSize": 9.5, "labelColor": "#222222", "labelPadding": 8}},
        "y": {"field": "y", "type": "quantitative", "scale": {"domain": [0, 100], "nice": false, "zero": false},
              "axis": {"ticks": false, "labels": false, "domainColor": "#111111", "domainWidth": 1.5, "title": ["用", "电", "功", "率"], "titleAngle": 0, "titleAlign": "center", "titleBaseline": "top", "titleX": -11, "titleY": 4, "titleFontSize": 8.5, "titleLineHeight": 9.5, "titleColor": "#333333", "titleFontWeight": "normal"}}
      },
      "layer": [
        {"data": {"name": "c2lines"}, "transform": [{"filter": "datum.s == '前'"}], "mark": {"type": "line", "color": "#3a77c5", "strokeWidth": 1.6, "interpolate": "monotone"}},
        {"data": {"name": "c2lines"}, "transform": [{"filter": "datum.s == '后'"}], "mark": {"type": "line", "color": "#e5413b", "strokeWidth": 1.3, "interpolate": "monotone"}},
        {"data": {"values": [{"x": 24.66, "y": 0, "y2": 45.4}]}, "mark": {"type": "rule", "color": "#222222", "strokeWidth": 1, "strokeDash": [3, 2]}, "encoding": {"y2": {"field": "y2"}}},
        {"data": {"name": "c2arrows"}, "mark": {"type": "rule", "color": "#111111", "strokeWidth": 1.5}, "encoding": {"y2": {"field": "y2"}}},
        {"data": {"name": "c2heads"}, "mark": {"type": "point", "shape": "triangle-down", "filled": true, "color": "#111111", "size": 40, "opacity": 1}, "encoding": {"angle": {"field": "a", "type": "quantitative", "scale": null}}},
        {"data": {"name": "c2leg"}, "transform": [{"filter": "datum.s == '前'"}], "mark": {"type": "rule", "color": "#3a77c5", "strokeWidth": 1.6}, "encoding": {"x2": {"field": "x2"}}},
        {"data": {"name": "c2leg"}, "transform": [{"filter": "datum.s == '后'"}], "mark": {"type": "rule", "color": "#e5413b", "strokeWidth": 1.3}, "encoding": {"x2": {"field": "x2"}}},
        {"data": {"name": "c2legtext"}, "mark": {"type": "text", "align": "left", "baseline": "middle", "fontSize": 9.5, "color": "#222222"}, "encoding": {"text": {"field": "t"}}},
        {"data": {"name": "c2text"}, "mark": {"type": "text", "align": "center", "baseline": "middle", "fontSize": 9.5, "lineHeight": 10.8, "lineBreak": "\n", "color": "#222222"}, "encoding": {"text": {"field": "t"}}}
      ]
    },
    {
      "width": 143, "height": 130,
      "data": {"values": [{"line": 0, "b": "有序充电：", "r": "根"}, {"line": 1, "t": "据变压器容量、"}, {"line": 2, "t": "电价进行引导，"}, {"line": 3, "t": "利用技术进行"}, {"line": 4, "t": "协调充电功率，"}, {"line": 5, "t": "降低运营成本"}]},
      "encoding": {
        "x": {"datum": 0, "type": "quantitative", "scale": {"domain": [0, 1]}, "axis": null},
        "y": {"field": "line", "type": "quantitative", "scale": {"domain": [-1.358, 6.667], "reverse": true, "nice": false, "zero": false}, "axis": null}
      },
      "layer": [
        {"transform": [{"filter": "datum.line == 0"}], "mark": {"type": "text", "text": "◆", "align": "left", "baseline": "middle", "dx": 5, "fontSize": 12, "color": "#000000"}},
        {"transform": [{"filter": "datum.line > 0"}], "mark": {"type": "text", "align": "left", "baseline": "middle", "dx": 25, "fontSize": 13.5, "color": "#000000"}, "encoding": {"text": {"field": "t"}}},
        {"transform": [{"filter": "datum.line == 0"}], "mark": {"type": "text", "align": "left", "baseline": "middle", "dx": 25, "fontSize": 13.5, "fontWeight": "bold", "color": "#000000"}, "encoding": {"text": {"field": "b"}}},
        {"transform": [{"filter": "datum.line == 0"}], "mark": {"type": "text", "align": "left", "baseline": "middle", "dx": 92.5, "fontSize": 13.5, "color": "#000000"}, "encoding": {"text": {"field": "r"}}}
      ]
    },
    {
      "width": 353, "height": 178,
      "view": {"fill": "#ebebeb", "stroke": null},
      "encoding": {
        "x": {"field": "x", "type": "quantitative", "scale": {"domain": [-3.114, 26.6], "nice": false, "zero": false},
              "axis": {"values": [0, 5, 10, 15, 20, 25], "domain": false, "ticks": false, "offset": -13, "labelPadding": 3, "labelFontSize": 8, "labelColor": "#333333", "labelFont": "Liberation Sans", "title": null}},
        "y": {"field": "y", "type": "quantitative", "scale": {"domain": [1638.5, 3849.7], "nice": false, "zero": false},
              "axis": {"values": [1800, 2000, 2200, 2400, 2600, 2800, 3000, 3200, 3400, 3600, 3800], "format": "d", "domain": false, "ticks": false, "offset": -37, "labelPadding": 4, "labelFontSize": 8, "labelColor": "#333333", "labelFont": "Liberation Sans", "title": "负荷/kW", "titleFontSize": 8, "titleColor": "#777777", "titleFontWeight": "normal", "titlePadding": 7}}
      },
      "layer": [
        {"data": {"values": [{"x": 0, "x2": 25, "y": 1800, "y2": 3800}]}, "mark": {"type": "rect", "color": "#ffffff"}, "encoding": {"x2": {"field": "x2"}, "y2": {"field": "y2"}}},
        {
          "data": {"name": "c3"},
          "transform": [{"fold": ["g", "c", "r"], "as": ["s", "y"]}],
          "layer": [
            {"transform": [{"filter": "datum.s == 'g'"}], "mark": {"type": "line", "color": "#22d622", "strokeWidth": 1.5, "strokeDash": [6, 2, 2, 2]}},
            {"transform": [{"filter": "datum.s == 'c'"}], "mark": {"type": "line", "color": "#40e0e8", "strokeWidth": 1.6, "strokeDash": [1.5, 1.5]}},
            {"transform": [{"filter": "datum.s == 'r'"}], "mark": {"type": "line", "color": "#e8141c", "strokeWidth": 2, "strokeDash": [5, 3]}}
          ]
        },
        {"data": {"name": "c3box"}, "mark": {"type": "rect", "fill": "#ffffff", "stroke": "#888888", "strokeWidth": 0.8}, "encoding": {"x2": {"field": "x2"}, "y2": {"field": "y2"}}},
        {"data": {"name": "c3leg"}, "transform": [{"filter": "datum.s == 'g'"}], "mark": {"type": "rule", "color": "#22d622", "strokeWidth": 1.5, "strokeDash": [6, 2, 2, 2]}, "encoding": {"x2": {"field": "x2"}}},
        {"data": {"name": "c3leg"}, "transform": [{"filter": "datum.s == 'c'"}], "mark": {"type": "rule", "color": "#40e0e8", "strokeWidth": 1.6, "strokeDash": [1.5, 1.5]}, "encoding": {"x2": {"field": "x2"}}},
        {"data": {"name": "c3leg"}, "transform": [{"filter": "datum.s == 'r'"}], "mark": {"type": "rule", "color": "#e8141c", "strokeWidth": 2, "strokeDash": [5, 3]}, "encoding": {"x2": {"field": "x2"}}},
        {"data": {"name": "c3legtext"}, "mark": {"type": "text", "align": "left", "baseline": "middle", "fontSize": 6.8, "lineHeight": 7.9, "lineBreak": "\n", "color": "#222222"}, "encoding": {"text": {"field": "t"}}}
      ]
    },
    {
      "width": 175, "height": 130,
      "data": {"values": [{"line": 0, "b": "需求响应：", "r": "基"}, {"line": 1, "t": "于激励、电价"}, {"line": 2, "t": "需求响应，以"}, {"line": 3, "t": "经济利益驱动"}, {"line": 4, "t": "用户参与。"}]},
      "encoding": {
        "x": {"datum": 0, "type": "quantitative", "scale": {"domain": [0, 1]}, "axis": null},
        "y": {"field": "line", "type": "quantitative", "scale": {"domain": [-1.481, 6.543], "reverse": true, "nice": false, "zero": false}, "axis": null}
      },
      "layer": [
        {"transform": [{"filter": "datum.line == 0"}], "mark": {"type": "text", "text": "◆", "align": "left", "baseline": "middle", "dx": 17, "fontSize": 12, "color": "#000000"}},
        {"transform": [{"filter": "datum.line > 0"}], "mark": {"type": "text", "align": "left", "baseline": "middle", "dx": 39, "fontSize": 13.5, "color": "#000000"}, "encoding": {"text": {"field": "t"}}},
        {"transform": [{"filter": "datum.line == 0"}], "mark": {"type": "text", "align": "left", "baseline": "middle", "dx": 39, "fontSize": 13.5, "fontWeight": "bold", "color": "#000000"}, "encoding": {"text": {"field": "b"}}},
        {"transform": [{"filter": "datum.line == 0"}], "mark": {"type": "text", "align": "left", "baseline": "middle", "dx": 106.5, "fontSize": 13.5, "color": "#000000"}, "encoding": {"text": {"field": "r"}}}
      ]
    },
    {
      "width": 354, "height": 148,
      "resolve": {"axis": {"x": "independent", "y": "independent"}},
      "layer": [
        {
          "data": {"name": "c4"},
          "encoding": {
            "x": {"field": "x", "type": "quantitative", "scale": {"domain": [-0.414, 24], "nice": false, "zero": false},
                  "axis": {"values": [0,1,2,3,4,5,6,7,8,9,10,11,12,13,14,15,16,17,18,19,20,21,22,23,24], "labels": false, "domain": false, "tickSize": -4, "tickColor": "#333333", "title": null}},
            "y": {"field": "y", "type": "quantitative", "scale": {"domain": [-96.7, 280], "nice": false, "zero": false},
                  "axis": {"values": [0, 100, 200], "domain": false, "offset": -6, "tickSize": -4, "tickColor": "#333333", "labelFont": "Liberation Serif", "labelFontSize": 13, "labelColor": "#333333", "labelPadding": 10, "title": "功率/kW", "titleFontSize": 13, "titleColor": "#555555", "titleFontWeight": "normal", "titleY": 54, "titlePadding": 4}}
          },
          "layer": [
            {"transform": [{"filter": "datum.s == '光伏'"}], "mark": {"type": "line", "color": "#0072bd", "strokeWidth": 1.2, "interpolate": "monotone"}},
            {"transform": [{"filter": "datum.s == '电网'"}], "mark": {"type": "line", "color": "#d95319", "strokeWidth": 1.2}, "encoding": {"detail": {"field": "seg"}}},
            {"transform": [{"filter": "datum.s == '负载'"}], "mark": {"type": "line", "color": "#edb120", "strokeWidth": 1.2}},
            {"transform": [{"filter": "datum.s == '储能'"}], "mark": {"type": "line", "color": "#7e2f8e", "strokeWidth": 1.2}}
          ]
        },
        {
          "encoding": {
            "x": {"field": "x", "type": "quantitative", "scale": {"domain": [-0.414, 24], "nice": false, "zero": false},
                  "axis": {"orient": "top", "values": [0,1,2,3,4,5,6,7,8,9,10,11,12,13,14,15,16,17,18,19,20,21,22,23,24], "labels": false, "domain": false, "tickSize": -4, "tickColor": "#333333", "title": null}},
            "y": {"field": "y", "type": "quantitative", "scale": {"domain": [-96.7, 280], "nice": false, "zero": false},
                  "axis": {"orient": "right", "values": [0, 100, 200], "labels": false, "domain": false, "tickSize": -4, "tickColor": "#333333", "title": null}}
          },
          "layer": [
            {"data": {"name": "c4frame"}, "mark": {"type": "rect", "filled": false, "color": "#333333", "strokeWidth": 1}, "encoding": {"x2": {"field": "x2"}, "y2": {"field": "y2"}}},
            {"data": {"name": "c4box"}, "mark": {"type": "rect", "fill": "#ffffff", "stroke": "#222222", "strokeWidth": 0.8}, "encoding": {"x2": {"field": "x2"}, "y2": {"field": "y2"}}},
            {"data": {"name": "c4leg"}, "transform": [{"filter": "datum.s == '光伏'"}], "mark": {"type": "rule", "color": "#0072bd", "strokeWidth": 1.2}, "encoding": {"x2": {"field": "x2"}}},
            {"data": {"name": "c4leg"}, "transform": [{"filter": "datum.s == '电网'"}], "mark": {"type": "rule", "color": "#d95319", "strokeWidth": 1.2}, "encoding": {"x2": {"field": "x2"}}},
            {"data": {"name": "c4leg"}, "transform": [{"filter": "datum.s == '负载'"}], "mark": {"type": "rule", "color": "#edb120", "strokeWidth": 1.2}, "encoding": {"x2": {"field": "x2"}}},
            {"data": {"name": "c4leg"}, "transform": [{"filter": "datum.s == '储能'"}], "mark": {"type": "rule", "color": "#7e2f8e", "strokeWidth": 1.2}, "encoding": {"x2": {"field": "x2"}}},
            {"data": {"name": "c4legtext"}, "mark": {"type": "text", "align": "left", "baseline": "middle", "fontSize": 12.5, "color": "#222222"}, "encoding": {"text": {"field": "t"}}}
          ]
        }
      ]
    }
  ]
}
